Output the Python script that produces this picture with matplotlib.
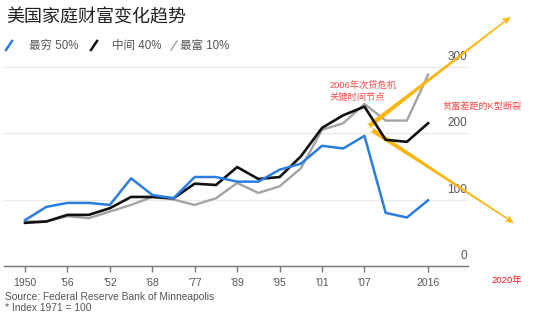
import matplotlib.pyplot as plt
from matplotlib.lines import Line2D

plt.rcParams['font.family'] = ['Liberation Sans', 'Noto Sans CJK SC', 'DejaVu Sans']

# Data (index 1971 = 100)
tick_labels = ['1950', "'56", "'52", "'68", "'77", "'89", "'95", "'01", "'07", '2016']
tick_idx = [0, 2, 4, 6, 8, 10, 12, 14, 16, 19]
poorest = [69, 89, 95, 95, 92, 132, 107, 102, 134, 134, 127, 127, 145, 154, 181, 177, 196, 80, 73, 99]
middle = [65, 67, 77, 77, 87, 104, 104, 102, 124, 122, 149, 131, 134, 165, 208, 227, 240, 190, 187, 215]
richest = [67, 67, 75, 72, 82, 92, 104, 100, 92, 102, 125, 110, 120, 147, 205, 215, 244, 219, 219, 288]
y_labels = [0, 100, 200, 300]

W, H = 554, 333
fig = plt.figure(figsize=(W / 100, H / 100), dpi=100)
fig.patch.set_facecolor('white')


def fx(px):
    return px / W


def fy(py):
    return 1 - py / H


# axes box in pixels: x 4..468, y 266 (value 0) .. 53.5 (value 320)
ax = fig.add_axes([fx(4), fy(266), (468 - 4) / W, (266 - 53.5) / H])
ax.set_facecolor('none')

x = list(range(len(poorest)))
ax.plot(x, richest, color='#a3a3a3', lw=1.7, zorder=3)
ax.plot(x, middle, color='#111111', lw=1.9, zorder=4)
ax.plot(x, poorest, color='#2b7de0', lw=1.8, zorder=5)

ax.set_xlim(-0.99, 20.88)
ax.set_ylim(0, 320)

ax.set_yticks(y_labels)
ax.tick_params(axis='y', left=False, labelleft=False)
ax.grid(axis='y', color='#ebebeb', lw=1)
ax.set_axisbelow(True)
for v in y_labels:
    ax.text(20.85, v + 6, str(v), ha='right', va='bottom', fontsize=8.5, color='#555555')

ax.set_xticks(tick_idx)
ax.set_xticklabels(tick_labels)
ax.tick_params(axis='x', direction='out', length=4, width=1, color='#777777',
               labelsize=7.5, labelcolor='#555555', pad=5)
for s in ['left', 'right', 'top']:
    ax.spines[s].set_visible(False)
ax.spines['bottom'].set_color('#777777')
ax.spines['bottom'].set_linewidth(1)

# orange arrows (tapered, widening toward the head)
arrow_color = '#fbb612'
arrow_style = 'fancy,head_length=0.5,head_width=0.42,tail_width=0.28'
ax.annotate('', xy=(22.88, 375), xytext=(16.19, 210), annotation_clip=False,
            arrowprops=dict(arrowstyle=arrow_style, color=arrow_color, lw=0,
                            mutation_scale=12, shrinkA=0, shrinkB=0))
ax.annotate('', xy=(23.03, 65), xytext=(16.35, 205), annotation_clip=False,
            arrowprops=dict(arrowstyle=arrow_style, color=arrow_color, lw=0,
                            mutation_scale=12, shrinkA=0, shrinkB=0))

# title and legend
fig.text(fx(6), fy(18), '美国家庭财富变化趋势', fontsize=13, color='#222222', va='center')
legend_items = [(9, 29, '最穷', '50%', '#2b7de0', 1.8),
                (94, 111.5, '中间', '40%', '#111111', 1.8),
                (174, 180, '最富', '10%', '#a3a3a3', 1.0)]
for cx, tx, name, pct, col, lw in legend_items:
    fig.add_artist(Line2D([fx(cx - 3), fx(cx + 3)], [fy(50), fy(41)], color=col, lw=lw))
    fig.text(fx(tx), fy(46), name + ' ' + pct, fontsize=8.3, color='#555555', va='center')

# annotations in red
red = '#f24a4a'
fig.text(fx(330), fy(85), '2006年次贷危机', fontsize=6.7, color=red, va='center')
fig.text(fx(330), fy(97), '关键时间节点', fontsize=6.7, color=red, va='center')
fig.text(fx(443), fy(106), '贫富差距的K型断裂', fontsize=6.6, color=red, va='center')
fig.text(fx(491), fy(281), '2020年', fontsize=6.8, color='#ff1a1a', va='center')

# source notes
fig.text(fx(5), fy(297), 'Source: Federal Reserve Bank of Minneapolis', fontsize=7.4,
         color='#555555', va='center')
fig.text(fx(5), fy(308), '* Index 1971 = 100', fontsize=7.4, color='#555555', va='center')

fig.savefig('out.png', dpi=100)
